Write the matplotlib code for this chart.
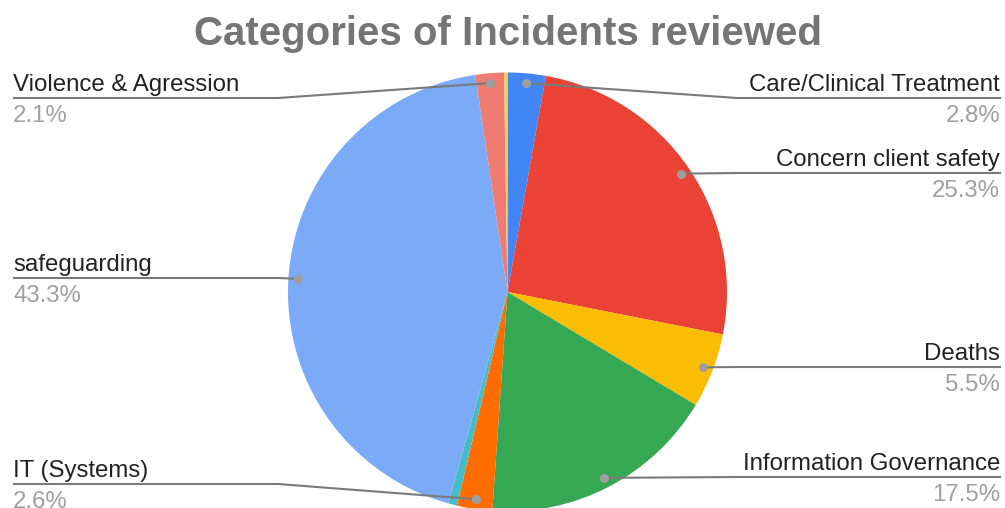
import numpy as np
import matplotlib
matplotlib.use("Agg")
import matplotlib.pyplot as plt

# ---- data (percent of incidents) ----
categories = ["Care/Clinical Treatment", "Concern client safety", "Deaths",
              "Information Governance", "IT (Systems)", "(unlabelled A)",
              "safeguarding", "Violence & Agression", "(unlabelled B)"]
values = [2.8, 25.3, 5.5, 17.5, 2.6, 0.65, 43.3, 2.1, 0.25]
show_label = [True, True, True, True, True, False, True, True, False]
colors = ["#4285F4", "#EA4335", "#FBBC04", "#34A853", "#FF6D01", "#46BDC6",
          "#7BAAF7", "#F07B72", "#FCD04F"]
title = "Categories of Incidents reviewed"

# ---- layout (pixels, y measured from top) ----
W, H = 1005, 508
cx, cy_top, R = 507.5, 292, 219.5
label_line_y = {"Care/Clinical Treatment": 98, "Concern client safety": 173,
                "Deaths": 367, "Information Governance": 477,
                "IT (Systems)": 484, "safeguarding": 278,
                "Violence & Agression": 98}
left_x, right_x = 13, 1001
left_bend, right_bend = 278, 737

plt.rcParams['font.family'] = ['Liberation Sans', 'DejaVu Sans']
fig = plt.figure(figsize=(W / 100, H / 100), dpi=100)
ax = fig.add_axes([0, 0, 1, 1])
cy = H - cy_top

wedges, _ = ax.pie(values, colors=colors, startangle=90, counterclock=False,
                   center=(cx, cy), radius=R,
                   wedgeprops=dict(linewidth=0))
ax.set_xlim(0, W)
ax.set_ylim(0, H)
ax.set_aspect('equal')
ax.axis('off')

fs = 17.3
line_col = "#7a7a7a"
for w, name, v, show in zip(wedges, categories, values, show_label):
    if not show:
        continue
    ang = np.deg2rad((w.theta1 + w.theta2) / 2)
    dx, dy = cx + 0.955 * R * np.cos(ang), cy + 0.955 * R * np.sin(ang)
    ly = H - label_line_y[name]
    if dx < cx:
        bend = min(left_bend, dx)
        xs = [left_x, bend, dx]
        ys = [ly, ly, dy]
        tx, ha = left_x, 'left'
    else:
        bend = max(right_bend, dx)
        xs = [dx, bend, right_x]
        ys = [dy, ly, ly]
        tx, ha = right_x - 1, 'right'
    ax.plot(xs, ys, color=line_col, lw=1.5, solid_capstyle='butt', zorder=3)
    ax.plot([dx], [dy], 'o', color="#9e9e9e", ms=6.5, mec='none', zorder=4)
    ax.text(tx, ly + 7, name, ha=ha, va='baseline', fontsize=fs, color="#222222")
    ax.text(tx, ly - 24, f"{v:.1f}%", ha=ha, va='baseline', fontsize=fs, color="#a0a0a0")

ax.text(507.5, H - 45, title, ha='center', va='baseline', fontsize=29,
        fontweight='bold', color="#757575")

fig.savefig("out.png", dpi=100, facecolor="white")
